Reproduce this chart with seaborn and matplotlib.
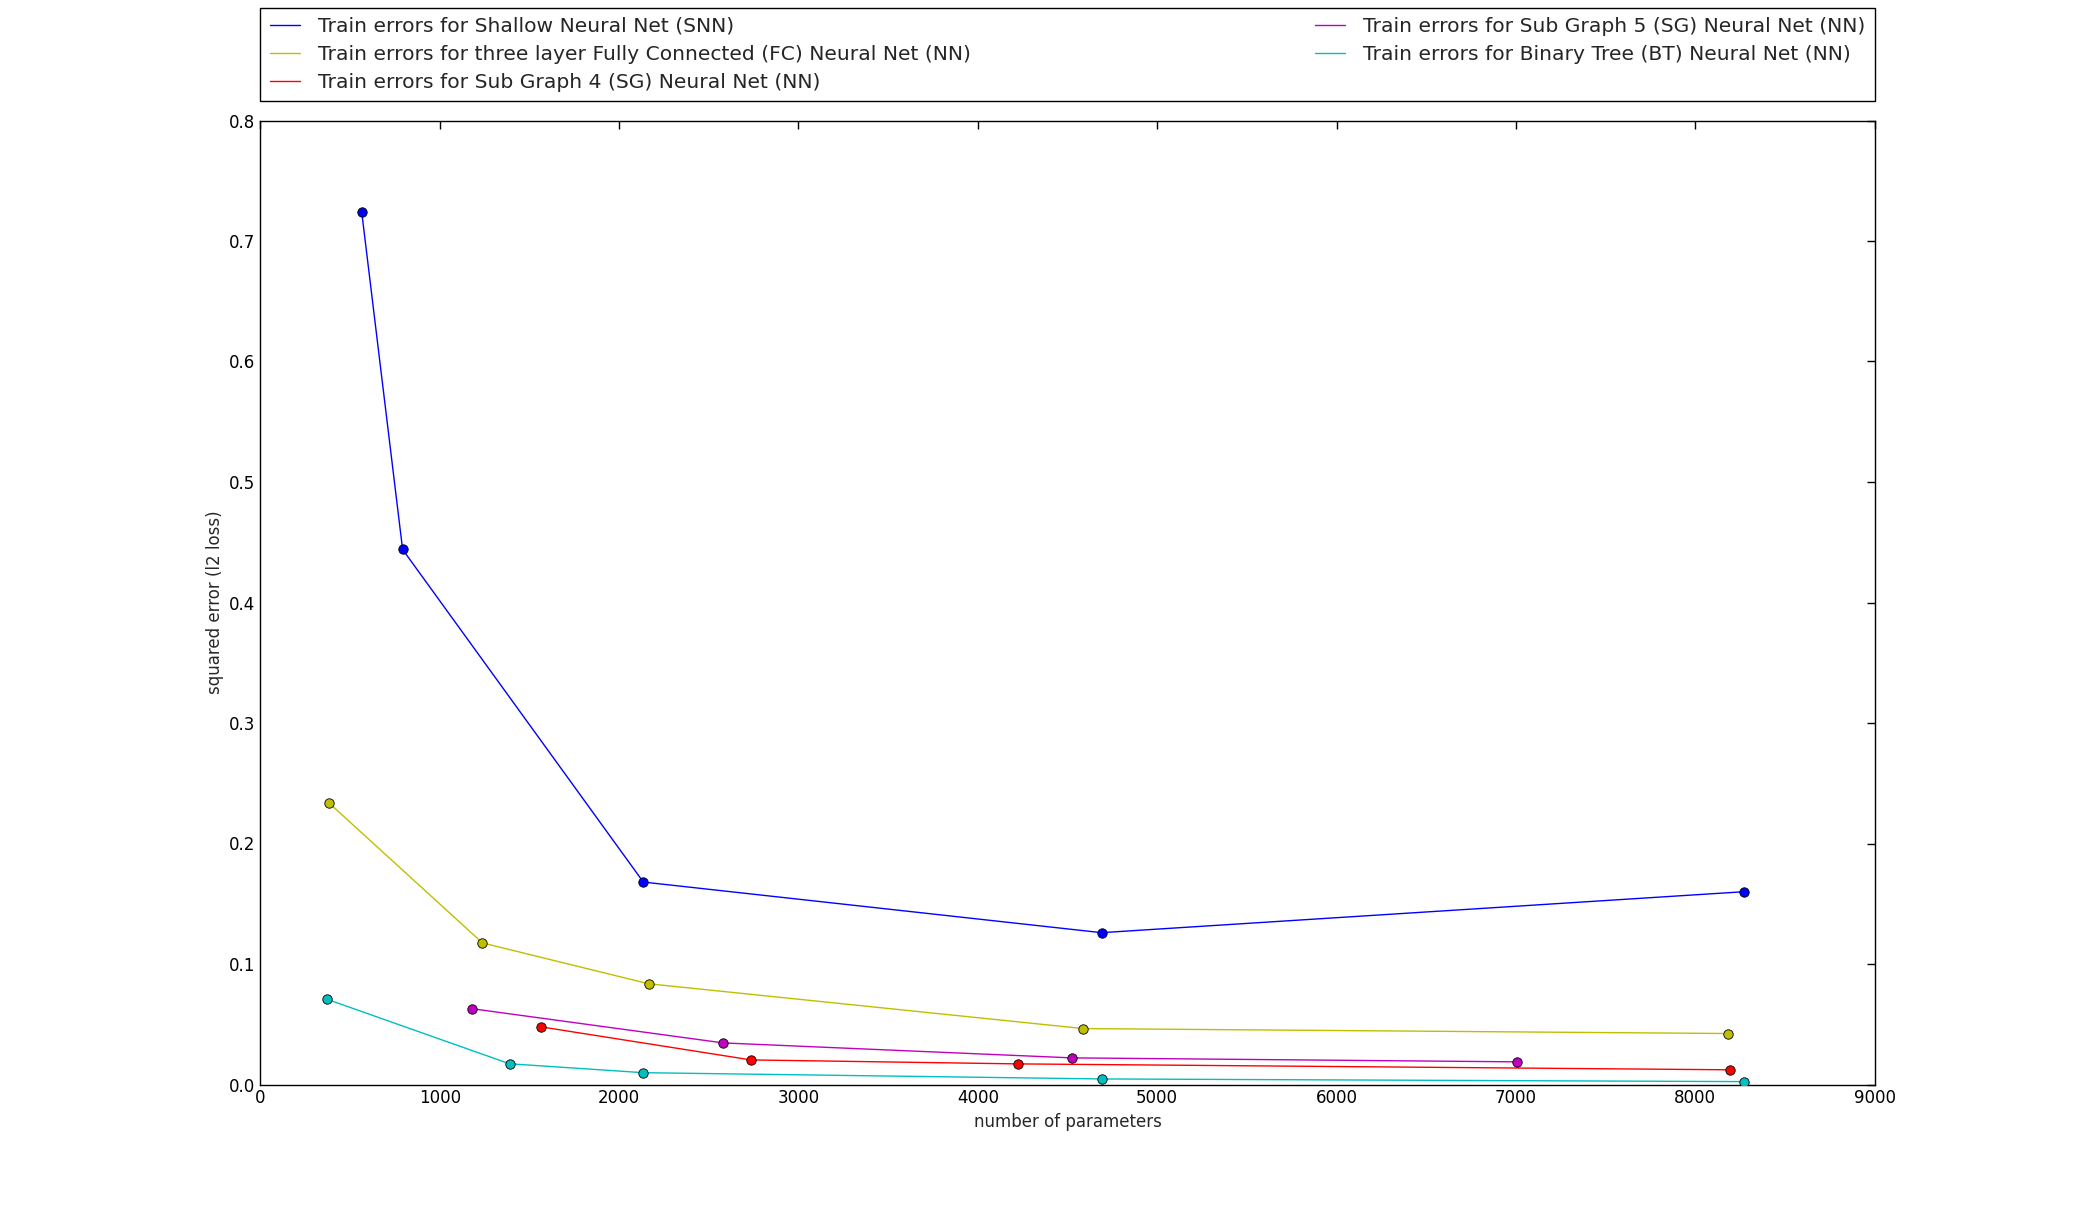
import matplotlib
matplotlib.use("Agg")
import matplotlib.pyplot as plt
import seaborn as sns

# parameter counts / train errors
snn_params = [565, 793, 2135, 4690, 8272]
snn_err = [0.724, 0.444, 0.168, 0.126, 0.160]

fc_params = [380, 1238, 2164, 4588, 8183]
fc_err = [0.234, 0.1175, 0.0836, 0.0464, 0.0423]

sg4_params = [1566, 2735, 4225, 8192]
sg4_err = [0.0478, 0.0204, 0.0171, 0.0122]

sg5_params = [1180, 2581, 4523, 7005]
sg5_err = [0.0629, 0.0345, 0.0221, 0.0188]

bt_params = [374, 1389, 2135, 4694, 8272]
bt_err = [0.0706, 0.0172, 0.0098, 0.0046, 0.0024]

labels = ['Train errors for Shallow Neural Net (SNN)',
          'Train errors for three layer Fully Connected (FC) Neural Net (NN)',
          'Train errors for Sub Graph 4 (SG) Neural Net (NN)',
          'Train errors for Sub Graph 5 (SG) Neural Net (NN)',
          'Train errors for Binary Tree (BT) Neural Net (NN)']
colors = [(0, 0, 1), (0.75, 0.75, 0), (1, 0, 0), (0.75, 0, 0.75), (0, 0.75, 0.75)]

sns.set_style("white")
plt.rcParams['font.family'] = ['DejaVu Sans']

fig = plt.figure(figsize=(20.83, 12.05), dpi=100)
ax = fig.add_axes([0.125, 0.1, 0.775, 0.8])

series = [(snn_params, snn_err), (fc_params, fc_err), (sg4_params, sg4_err),
          (sg5_params, sg5_err), (bt_params, bt_err)]
for (xs, ys), lab, col in zip(series, labels, colors):
    sns.lineplot(x=xs, y=ys, color=col, linewidth=1.0, label=lab, ax=ax)
    sns.scatterplot(x=xs, y=ys, color=col, s=46, edgecolor='k', linewidth=0.6,
                    zorder=3, legend=False, ax=ax)

ax.set_xlim(0, 9000)
ax.set_ylim(0, 0.8)
ax.set_xlabel('number of parameters', fontsize=12)
ax.set_ylabel('squared error (l2 loss)', fontsize=12)
ax.tick_params(direction='in', top=True, right=True, length=6, width=1,
               labelsize=12, colors='k')
for sp in ax.spines.values():
    sp.set_color('k')
    sp.set_linewidth(1.0)

leg = ax.legend(bbox_to_anchor=(0., 1.02, 1., .102), loc=3, ncol=2,
                mode="expand", borderaxespad=0., fontsize=14.6,
                handlelength=1.5, handletextpad=0.9, borderpad=0.45,
                labelspacing=0.45, fancybox=False, framealpha=1)
leg.get_frame().set_edgecolor('k')
leg.get_frame().set_linewidth(1.0)

plt.savefig('out.png', dpi=100)
